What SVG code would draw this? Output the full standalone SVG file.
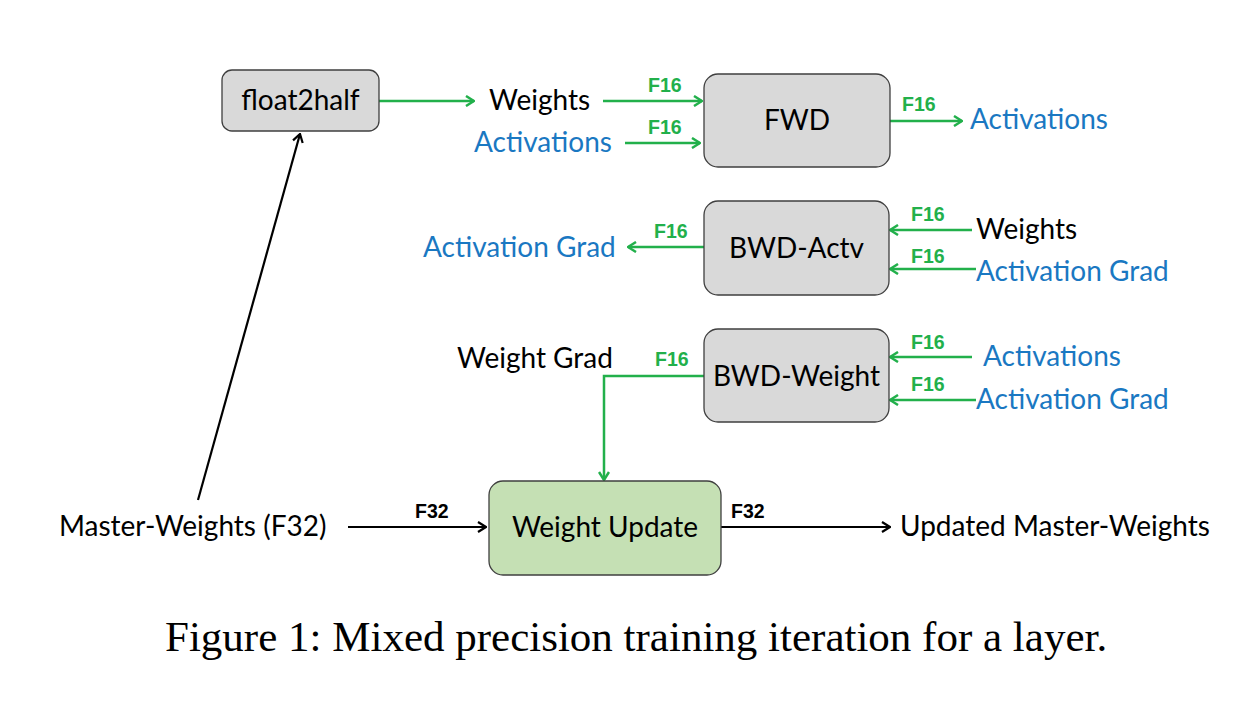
<svg xmlns="http://www.w3.org/2000/svg" width="1254" height="708" viewBox="0 0 1254 708">
<defs>
<style>
.box{fill:#d9d9d9;stroke:#3f3f3f;stroke-width:1.3}
.upd{fill:#c5e0b4;stroke:#3f3f3f;stroke-width:1.3}
.t{font-family:Lato,"Liberation Sans",sans-serif;font-size:28px}
.blk{fill:#000}
.blu{fill:#1a78c2}
.f{font-family:"Liberation Sans",Arial,sans-serif;font-weight:bold;font-size:19.5px}
.fg{fill:#22b04b}
.g{stroke:#22b04b;stroke-width:2.5;fill:none}
.k{stroke:#000;stroke-width:2.2;fill:none}
.cap{font-family:"Liberation Serif","Times New Roman",serif;font-size:43px;fill:#000}
</style>
<marker id="ag" viewBox="0 0 12 12" refX="11" refY="6" markerWidth="12" markerHeight="12" markerUnits="userSpaceOnUse" orient="auto">
<path d="M3,1 L11,6 L3,11" fill="none" stroke="#22b04b" stroke-width="2.5"/>
</marker>
<marker id="ak" viewBox="0 0 12 12" refX="11" refY="6" markerWidth="12" markerHeight="12" markerUnits="userSpaceOnUse" orient="auto">
<path d="M3,1 L11,6 L3,11" fill="none" stroke="#000" stroke-width="2.2"/>
</marker>
</defs>
<rect width="1254" height="708" fill="#fff"/>

<g id="connectors">
<line class="g" x1="379" y1="101" x2="474" y2="101" marker-end="url(#ag)"/>
<line class="g" x1="603" y1="101" x2="702" y2="101" marker-end="url(#ag)"/>
<line class="g" x1="625" y1="143" x2="700" y2="143" marker-end="url(#ag)"/>
<line class="g" x1="890" y1="121" x2="962" y2="121" marker-end="url(#ag)"/>
<line class="g" x1="704" y1="247" x2="628" y2="247" marker-end="url(#ag)"/>
<line class="g" x1="972" y1="230" x2="890" y2="230" marker-end="url(#ag)"/>
<line class="g" x1="976" y1="269" x2="890" y2="269" marker-end="url(#ag)"/>
<polyline class="g" points="704,376 604,376 604,480" marker-end="url(#ag)"/>
<line class="g" x1="972" y1="357" x2="890" y2="357" marker-end="url(#ag)"/>
<line class="g" x1="976" y1="400" x2="890" y2="400" marker-end="url(#ag)"/>
<line class="k" x1="198" y1="500" x2="300" y2="134" marker-end="url(#ak)"/>
<line class="k" x1="348" y1="527" x2="486" y2="527" marker-end="url(#ak)"/>
<line class="k" x1="721" y1="527" x2="890" y2="527" marker-end="url(#ak)"/>
<text class="f fg" x="648" y="92">F16</text>
<text class="f fg" x="648" y="134">F16</text>
<text class="f fg" x="902" y="111">F16</text>
<text class="f fg" x="654" y="238">F16</text>
<text class="f fg" x="911" y="221">F16</text>
<text class="f fg" x="911" y="263">F16</text>
<text class="f fg" x="655" y="366">F16</text>
<text class="f fg" x="911" y="349">F16</text>
<text class="f fg" x="911" y="391">F16</text>
<text class="f blk" x="415" y="518">F32</text>
<text class="f blk" x="731" y="518">F32</text>
</g>

<g id="float2half">
<rect class="box" x="222" y="70" width="157" height="61" rx="10"/>
<text class="t blk" x="300.5" y="110" text-anchor="middle">float2half</text>
</g>
<g id="fwd">
<rect class="box" x="704" y="74" width="186" height="93" rx="14"/>
<text class="t blk" x="797" y="130" text-anchor="middle">FWD</text>
</g>
<g id="bwd-actv">
<rect class="box" x="704" y="201" width="185" height="94" rx="14"/>
<text class="t blk" x="796.5" y="258" text-anchor="middle">BWD-Actv</text>
</g>
<g id="bwd-weight">
<rect class="box" x="704" y="329" width="185" height="93" rx="14"/>
<text class="t blk" x="796.5" y="386" text-anchor="middle">BWD-Weight</text>
</g>
<g id="weight-update">
<rect class="upd" x="489" y="481" width="232" height="94" rx="14"/>
<text class="t blk" x="605" y="537" text-anchor="middle">Weight Update</text>
</g>

<g id="labels">
<text class="t blk" x="489" y="110">Weights</text>
<text class="t blu" x="474" y="152">Activations</text>
<text class="t blu" x="970" y="129">Activations</text>
<text class="t blu" x="423" y="257">Activation Grad</text>
<text class="t blk" x="976" y="239">Weights</text>
<text class="t blu" x="976" y="281">Activation Grad</text>
<text class="t blk" x="457" y="368">Weight Grad</text>
<text class="t blu" x="983" y="366">Activations</text>
<text class="t blu" x="976" y="409">Activation Grad</text>
<text class="t blk" x="59" y="536">Master-Weights (F32)</text>
<text class="t blk" x="900" y="536">Updated Master-Weights</text>
</g>

<text class="cap" x="165" y="651">Figure 1: Mixed precision training iteration for a layer.</text>
</svg>
